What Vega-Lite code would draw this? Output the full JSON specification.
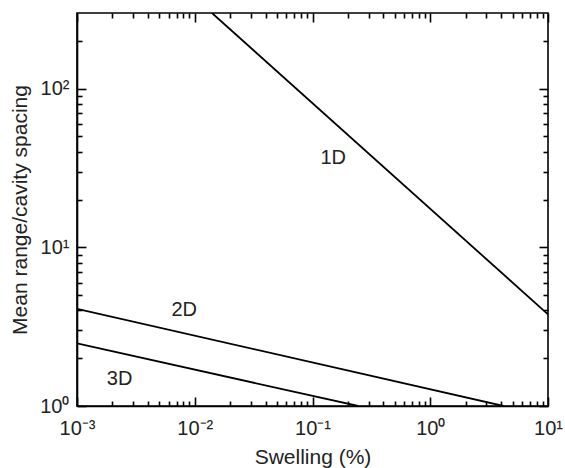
{
  "$schema": "https://vega.github.io/schema/vega-lite/v6.json",
  "width": 471,
  "height": 393,
  "autosize": "none",
  "padding": {"left": 77, "top": 13, "right": 17, "bottom": 62},
  "background": "white",
  "config": {
    "view": {"stroke": "black", "strokeWidth": 1.6},
    "font": "Liberation Sans",
    "axis": {
      "domainColor": "black",
      "domainWidth": 1.6,
      "tickColor": "black",
      "tickWidth": 1.6,
      "tickOpacity": 1,
      "labelFont": "Liberation Sans",
      "labelFontSize": 20,
      "labelColor": "#222",
      "titleFont": "Liberation Sans",
      "titleFontSize": 21,
      "titleFontWeight": "normal",
      "titleColor": "#222",
      "grid": false,
      "labelOverlap": false,
      "labelFlush": false
    }
  },
  "datasets": {
    "lines": [
      {"series": "1D", "x": 0.014, "y": 300},
      {"series": "1D", "x": 10, "y": 3.78},
      {"series": "2D", "x": 0.001, "y": 4.1},
      {"series": "2D", "x": 4.18, "y": 1},
      {"series": "3D", "x": 0.001, "y": 2.48},
      {"series": "3D", "x": 0.244, "y": 1}
    ],
    "labels": [
      {"label": "1D", "x": 0.15, "y": 36.8},
      {"label": "2D", "x": 0.00814, "y": 4.0},
      {"label": "3D", "x": 0.0023, "y": 1.47}
    ]
  },
  "resolve": {"axis": {"x": "independent", "y": "independent"}},
  "layer": [
    {
      "data": {"name": "lines"},
      "mark": {"type": "line", "color": "black", "strokeWidth": 1.8, "clip": true},
      "encoding": {
        "x": {
          "field": "x", "type": "quantitative",
          "scale": {"type": "log", "domain": [0.001, 10], "nice": false},
          "axis": {
            "orient": "bottom",
            "title": "Swelling (%)",
            "titlePadding": 8,
            "values": [0.001, 0.01, 0.1, 1, 10],
            "ticks": false,
            "labelPadding": 12,
            "labelExpr": "['10⁻³','10⁻²','10⁻¹','10⁰','10¹'][round(log(datum.value)/LN10)+3]"
          }
        },
        "y": {
          "field": "y", "type": "quantitative",
          "scale": {"type": "log", "domain": [1, 300], "nice": false},
          "axis": {
            "orient": "left",
            "title": "Mean range/cavity spacing",
            "titlePadding": 9,
            "values": [1, 10, 100],
            "ticks": false,
            "labelPadding": 8,
            "labelExpr": "['10⁰','10¹','10²'][round(log(datum.value)/LN10)]"
          }
        },
        "detail": {"field": "series"}
      }
    },
    {
      "data": {"name": "labels"},
      "mark": {"type": "text", "fontSize": 20, "font": "Liberation Sans", "color": "#222"},
      "encoding": {
        "x": {
          "field": "x", "type": "quantitative",
          "axis": {"orient": "bottom", "title": null, "domain": false, "labels": false, "offset": -9, "tickSize": 9, "values": [0.001, 0.01, 0.1, 1, 10]}
        },
        "y": {
          "field": "y", "type": "quantitative",
          "axis": {"orient": "left", "title": null, "domain": false, "labels": false, "offset": -9, "tickSize": 9, "values": [1, 10, 100]}
        },
        "text": {"field": "label"}
      }
    },
    {
      "data": {"name": "lines"},
      "mark": {"type": "point", "opacity": 0},
      "encoding": {
        "x": {
          "field": "x", "type": "quantitative",
          "axis": {"orient": "top", "title": null, "domain": false, "labels": false, "offset": -9, "tickSize": 9, "values": [0.001, 0.01, 0.1, 1, 10]}
        },
        "y": {
          "field": "y", "type": "quantitative",
          "axis": {"orient": "right", "title": null, "domain": false, "labels": false, "offset": -9, "tickSize": 9, "values": [1, 10, 100]}
        }
      }
    },
    {
      "data": {"name": "lines"},
      "mark": {"type": "point", "opacity": 0},
      "encoding": {
        "x": {
          "field": "x", "type": "quantitative",
          "axis": {"orient": "bottom", "title": null, "domain": false, "labels": false, "offset": -5, "tickSize": 5,
            "values": [0.002,0.003,0.004,0.005,0.006,0.007,0.008,0.009,0.02,0.03,0.04,0.05,0.06,0.07,0.08,0.09,0.2,0.3,0.4,0.5,0.6,0.7,0.8,0.9,2,3,4,5,6,7,8,9]}
        },
        "y": {
          "field": "y", "type": "quantitative",
          "axis": {"orient": "left", "title": null, "domain": false, "labels": false, "offset": -5, "tickSize": 5,
            "values": [2,3,4,5,6,7,8,9,20,30,40,50,60,70,80,90,200]}
        }
      }
    },
    {
      "data": {"name": "lines"},
      "mark": {"type": "point", "opacity": 0},
      "encoding": {
        "x": {
          "field": "x", "type": "quantitative",
          "axis": {"orient": "top", "title": null, "domain": false, "labels": false, "offset": -5, "tickSize": 5,
            "values": [0.002,0.003,0.004,0.005,0.006,0.007,0.008,0.009,0.02,0.03,0.04,0.05,0.06,0.07,0.08,0.09,0.2,0.3,0.4,0.5,0.6,0.7,0.8,0.9,2,3,4,5,6,7,8,9]}
        },
        "y": {
          "field": "y", "type": "quantitative",
          "axis": {"orient": "right", "title": null, "domain": false, "labels": false, "offset": -5, "tickSize": 5,
            "values": [2,3,4,5,6,7,8,9,20,30,40,50,60,70,80,90,200]}
        }
      }
    }
  ]
}
